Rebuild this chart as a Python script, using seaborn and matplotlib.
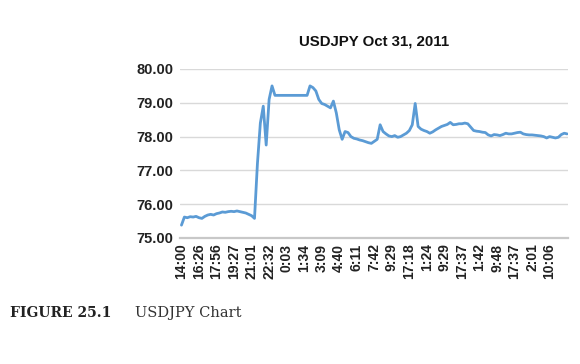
import matplotlib
matplotlib.use("Agg")
import matplotlib.pyplot as plt
import seaborn as sns
import pandas as pd
import numpy as np

# Tick labels (time of day) shown along the x axis, one every 6 samples
tick_labels = ["14:00", "16:26", "17:56", "19:27", "21:01", "22:32", "0:03",
               "1:34", "3:09", "4:40", "6:11", "7:42", "9:29", "17:18",
               "1:24", "9:29", "17:37", "1:42", "9:48", "17:37", "2:01", "10:06"]
tick_step = 6

# USDJPY price samples
price = [
    75.38, 75.62, 75.60, 75.63, 75.62, 75.64, 75.60, 75.58, 75.64, 75.68,
    75.70, 75.68, 75.72, 75.74, 75.77, 75.76, 75.78, 75.79, 75.78, 75.80,
    75.78, 75.76, 75.74, 75.70, 75.66, 75.58, 77.20, 78.40, 78.90, 77.75,
    79.10, 79.50, 79.22, 79.22, 79.22, 79.22, 79.22, 79.22, 79.22, 79.22,
    79.22, 79.22, 79.22, 79.22, 79.50, 79.45, 79.35, 79.10, 78.98, 78.95,
    78.90, 78.85, 79.05, 78.70, 78.20, 77.92, 78.15, 78.12, 78.00, 77.95,
    77.93, 77.90, 77.88, 77.85, 77.82, 77.80, 77.86, 77.92, 78.35, 78.15,
    78.08, 78.02, 78.00, 78.03, 77.98, 78.00, 78.05, 78.10, 78.18, 78.35,
    78.98, 78.30, 78.22, 78.18, 78.15, 78.10, 78.14, 78.20, 78.25, 78.30,
    78.33, 78.36, 78.42, 78.35, 78.36, 78.38, 78.38, 78.40, 78.38, 78.28,
    78.18, 78.16, 78.15, 78.13, 78.12, 78.05, 78.02, 78.06, 78.05, 78.03,
    78.06, 78.10, 78.08, 78.08, 78.10, 78.12, 78.13, 78.08, 78.06, 78.05,
    78.05, 78.04, 78.03, 78.02, 78.00, 77.96, 78.00, 77.98, 77.96, 77.98,
    78.06, 78.10, 78.08,
]
y_ticks = [75.0, 76.0, 77.0, 78.0, 79.0, 80.0]

df = pd.DataFrame({"sample": range(len(price)), "price": price})

sns.set_style("white")
plt.rcParams["font.family"] = ["Liberation Sans", "DejaVu Sans"]

fig = plt.figure(figsize=(5.8, 3.64), dpi=100)
ax = fig.add_axes([180 / 580, 1 - 238 / 364, (568 - 180) / 580, (238 - 69) / 364])

sns.lineplot(data=df, x="sample", y="price", ax=ax, color="#5b9bd5",
             linewidth=2.0, zorder=3)

ax.set_ylim(75, 80)
ax.set_xlim(-0.5, len(price) - 0.7)
ax.set_yticks(y_ticks)
ax.set_yticklabels([f"{v:.2f}" for v in y_ticks], fontsize=10.5,
                   fontweight="bold", color="#222222")
tick_pos = [i * tick_step for i in range(len(tick_labels))]
ax.set_xticks(tick_pos)
ax.set_xticklabels(tick_labels, rotation=90, fontsize=10, fontweight="bold",
                   color="#222222")
ax.tick_params(axis="both", length=0, pad=5)
ax.tick_params(axis="x", pad=4)
ax.set_xlabel("")
ax.set_ylabel("")
ax.grid(axis="y", color="#d9d9d9", linewidth=1.0)
ax.set_axisbelow(True)
for s in ["left", "right", "top"]:
    ax.spines[s].set_visible(False)
ax.spines["bottom"].set_color("#c8c8c8")
ax.spines["bottom"].set_linewidth(1.6)

fig.text(374 / 580, 1 - 42 / 364, "USDJPY Oct 31, 2011", ha="center",
         va="center", fontsize=10.8, fontweight="bold", color="#111111")

fig.text(10 / 580, 1 - 313 / 364, "FIGURE 25.1", ha="left", va="center",
         fontsize=10, fontweight="bold", family="DejaVu Serif", color="#222222")
fig.text(135 / 580, 1 - 313 / 364, "USDJPY Chart", ha="left", va="center",
         fontsize=10.5, family="DejaVu Serif", color="#333333")

fig.savefig("out.png", dpi=100)
